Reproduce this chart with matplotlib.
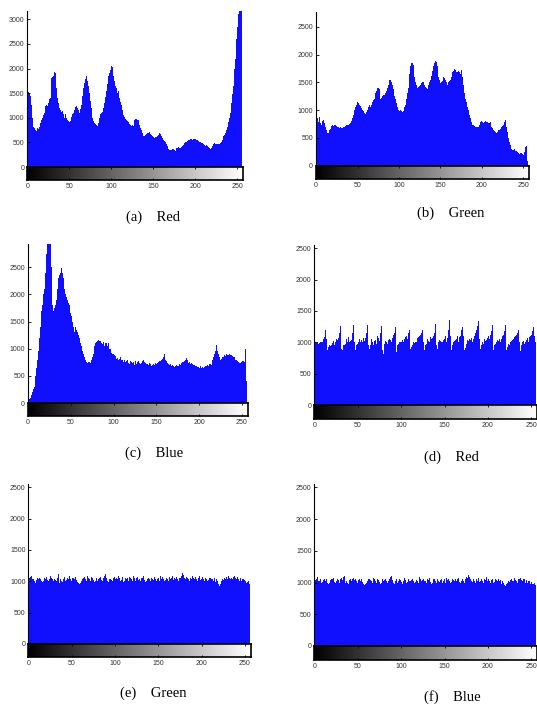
import numpy as np
import matplotlib
matplotlib.use('Agg')
import matplotlib.pyplot as plt

# histogram counts per gray level (0..255)
levels = np.arange(256)

red_orig = [
    1040, 1520, 1500, 1530, 1450, 1250, 1000, 820, 800, 780, 760, 740, 790, 770, 820, 860,
    900, 950, 1000, 1050, 1100, 1150, 1240, 1250, 1230, 1300, 1380, 1400, 1550, 1800, 1820, 1850,
    1940, 1900, 1750, 1600, 1400, 1300, 1200, 1150, 1100, 1120, 1140, 1080, 1000, 1070, 1060, 1000,
    950, 930, 920, 940, 1000, 1020, 1080, 1100, 1150, 1220, 1230, 1210, 1200, 1150, 1100, 1180,
    1250, 1350, 1450, 1600, 1700, 1780, 1840, 1800, 1750, 1650, 1500, 1350, 1200, 1100, 990, 940,
    890, 870, 850, 830, 820, 900, 1000, 1080, 1100, 1120, 1100, 1200, 1300, 1420, 1550, 1680,
    1800, 1850, 1900, 1980, 2060, 2040, 2000, 1850, 1750, 1650, 1600, 1500, 1550, 1450, 1400, 1330,
    1250, 1150, 1050, 1060, 1020, 980, 950, 930, 920, 900, 870, 860, 840, 850, 830, 900,
    950, 970, 980, 960, 950, 900, 850, 800, 750, 700, 640, 620, 640, 660, 680, 690,
    700, 710, 690, 670, 650, 630, 600, 590, 580, 600, 610, 620, 650, 690, 720, 680,
    620, 580, 540, 520, 500, 480, 460, 420, 370, 350, 350, 340, 350, 360, 370, 350,
    330, 360, 380, 390, 400, 380, 390, 410, 400, 430, 450, 480, 500, 510, 520, 530,
    540, 550, 560, 570, 550, 540, 560, 570, 560, 540, 530, 540, 520, 510, 500, 490,
    480, 490, 470, 450, 430, 450, 440, 420, 400, 380, 360, 390, 420, 440, 460, 480,
    470, 460, 460, 450, 460, 470, 480, 510, 550, 580, 620, 660, 700, 760, 820, 870,
    920, 1000, 1100, 1300, 1480, 1650, 1750, 2000, 2200, 2600, 2850, 3100, 3400, 3600, 3500, 3300,
]

green_orig = [
    880, 850, 860, 780, 870, 760, 740, 780, 800, 820, 760, 700, 680, 650, 590, 580,
    640, 660, 700, 720, 730, 720, 740, 730, 750, 720, 700, 690, 680, 690, 700, 670,
    680, 700, 700, 720, 750, 740, 730, 740, 750, 770, 780, 800, 850, 920, 1000, 1020,
    1050, 1100, 1150, 1120, 1100, 1060, 1080, 1040, 1000, 980, 950, 940, 930, 960, 1000, 1050,
    1100, 1080, 1050, 1100, 1150, 1180, 1200, 1250, 1300, 1350, 1400, 1390, 1380, 1300, 1200, 1220,
    1250, 1270, 1280, 1290, 1300, 1350, 1400, 1450, 1500, 1540, 1540, 1500, 1450, 1380, 1300, 1250,
    1200, 1120, 1050, 1000, 990, 980, 1000, 990, 960, 980, 1000, 1050, 1100, 1200, 1300, 1400,
    1500, 1650, 1800, 1840, 1850, 1820, 1750, 1600, 1500, 1450, 1400, 1410, 1420, 1440, 1450, 1480,
    1500, 1520, 1500, 1460, 1420, 1400, 1380, 1420, 1460, 1500, 1550, 1620, 1700, 1750, 1800, 1850,
    1890, 1860, 1800, 1700, 1600, 1540, 1480, 1500, 1520, 1560, 1600, 1580, 1550, 1500, 1450, 1480,
    1500, 1520, 1550, 1600, 1650, 1680, 1700, 1740, 1720, 1680, 1650, 1690, 1700, 1680, 1650, 1720,
    1700, 1600, 1450, 1300, 1200, 1150, 1100, 1050, 1000, 920, 850, 780, 750, 740, 730, 720,
    700, 690, 680, 690, 700, 740, 780, 790, 800, 780, 760, 780, 800, 810, 790, 780,
    760, 770, 780, 740, 700, 680, 650, 620, 600, 590, 580, 610, 640, 650, 660, 680,
    700, 720, 740, 780, 830, 780, 700, 600, 500, 430, 380, 330, 300, 290, 290, 300,
    280, 270, 260, 240, 220, 210, 200, 220, 230, 210, 200, 250, 300, 340, 360, 80,
]

blue_orig = [
    55, 60, 80, 100, 150, 200, 250, 300, 400, 500, 650, 800, 950, 1200, 1400, 1600,
    1700, 1800, 2000, 2100, 2400, 2750, 3000, 3100, 3200, 3050, 2950, 2500, 2000, 1800, 1700, 1750,
    1800, 1900, 2100, 2200, 2300, 2350, 2400, 2480, 2400, 2300, 2200, 2100, 2000, 1950, 1900, 1850,
    1800, 1700, 1650, 1600, 1500, 1400, 1300, 1400, 1450, 1350, 1300, 1250, 1200, 1100, 1050, 1000,
    950, 900, 850, 800, 750, 740, 720, 750, 760, 740, 800, 850, 900, 1000, 1050, 1100,
    1120, 1150, 1170, 1150, 1100, 1150, 1100, 1080, 1120, 1050, 1100, 1080, 1100, 1050, 1100, 1000,
    1000, 950, 920, 900, 900, 880, 860, 820, 880, 830, 800, 820, 850, 790, 800, 780,
    760, 800, 750, 770, 790, 740, 760, 720, 780, 750, 730, 760, 700, 740, 770, 720,
    750, 780, 740, 710, 760, 730, 770, 790, 760, 740, 720, 750, 720, 700, 740, 710,
    690, 700, 730, 720, 700, 740, 720, 740, 760, 750, 770, 780, 800, 820, 850, 900,
    850, 800, 780, 740, 720, 700, 690, 720, 680, 700, 680, 660, 690, 670, 700, 680,
    690, 710, 700, 730, 720, 750, 760, 780, 800, 830, 790, 750, 740, 760, 720, 730,
    710, 700, 720, 700, 680, 690, 660, 670, 650, 660, 680, 640, 660, 650, 670, 680,
    660, 690, 700, 690, 710, 720, 700, 750, 800, 850, 900, 950, 1070, 950, 1000, 900,
    850, 800, 820, 840, 850, 860, 880, 870, 900, 880, 880, 890, 900, 890, 880, 860,
    850, 840, 820, 800, 800, 780, 750, 740, 730, 740, 760, 770, 780, 750, 1000, 400,
]

red_enc = [
    880, 1000, 990, 1000, 980, 1000, 990, 1000, 1010, 1000, 1050, 1080, 1200, 1300, 1050, 880,
    920, 950, 940, 960, 1000, 990, 1020, 960, 1000, 1050, 1040, 1070, 1100, 1150, 1260, 900,
    880, 950, 960, 990, 980, 1050, 1000, 1080, 1000, 1020, 1040, 1080, 1150, 1280, 1000, 870,
    950, 980, 970, 1000, 1050, 1010, 1040, 1000, 1060, 1020, 1100, 1060, 1150, 1280, 950, 900,
    960, 1040, 1050, 1000, 960, 1020, 1040, 980, 1050, 1100, 1060, 1020, 1150, 1260, 880, 820,
    940, 980, 1020, 1000, 980, 1030, 1050, 1000, 1040, 1000, 1060, 1120, 1150, 1250, 850, 920,
    960, 980, 1000, 1010, 1000, 1030, 1060, 1000, 1050, 1080, 1100, 1050, 1150, 1200, 950, 900,
    920, 960, 1000, 990, 1010, 1050, 1000, 1060, 1080, 1100, 1120, 1150, 1180, 1200, 1000, 880,
    950, 980, 1050, 1020, 1040, 1000, 1080, 1050, 1060, 1100, 1150, 1200, 1290, 950, 900, 1000,
    1040, 1020, 1000, 1050, 1000, 1030, 1050, 1100, 1000, 1060, 1150, 1200, 1350, 1100, 880, 960,
    1000, 1020, 990, 1040, 1050, 1100, 1000, 1080, 1100, 1150, 1200, 1250, 1100, 870, 910, 980,
    1000, 1030, 1020, 1050, 1040, 1060, 1000, 1050, 1070, 1100, 1150, 1200, 1260, 1340, 1050, 820,
    900, 950, 1000, 980, 1050, 1020, 1040, 1000, 1060, 1100, 1050, 1120, 1180, 1280, 1000, 880,
    950, 980, 1000, 1040, 1020, 1050, 1080, 1000, 1050, 1100, 1120, 1180, 1280, 1050, 870, 930,
    980, 960, 1000, 1020, 1040, 1000, 1050, 1080, 1100, 1120, 1150, 1200, 1250, 1000, 860, 950,
    1000, 1020, 980, 1050, 1000, 1040, 1060, 1000, 1080, 1100, 1120, 1150, 1180, 1250, 1100, 1000,
]

green_enc = [
    1060, 1050, 1070, 1080, 1040, 1010, 1030, 1000, 980, 1020, 1050, 1030, 1060, 1070, 1040, 1000,
    990, 1010, 1050, 1030, 1060, 1070, 1020, 1000, 1040, 1080, 1050, 1030, 990, 1010, 1040, 1020,
    1000, 1060, 1120, 1000, 980, 1040, 1010, 990, 1030, 1070, 1050, 1000, 1020, 1060, 1040, 1080,
    1030, 1000, 1010, 1050, 1060, 1040, 1070, 1020, 990, 1000, 980, 950, 970, 1000, 1040, 1060,
    1050, 1070, 1030, 1010, 1080, 1060, 1040, 1000, 1030, 1070, 1050, 1020, 990, 1010, 1060, 1040,
    1000, 1030, 1050, 1070, 1020, 1000, 1040, 1060, 1080, 1120, 1050, 1010, 990, 1030, 1060, 1040,
    1020, 1000, 1050, 1070, 1040, 1010, 1060, 1030, 1080, 1050, 1000, 1020, 1070, 1040, 990, 1010,
    1050, 1030, 1060, 1000, 1020, 1070, 1050, 1040, 1010, 1090, 1060, 1030, 1000, 1050, 1070, 1020,
    1040, 1000, 1060, 1030, 1050, 1080, 1020, 990, 1010, 1040, 1070, 1050, 1030, 1000, 1060, 1040,
    1020, 1050, 1070, 1030, 1000, 1040, 1060, 1010, 1080, 1050, 1030, 1070, 1040, 1000, 1020, 1060,
    1050, 1030, 1010, 1070, 1040, 1060, 1080, 1020, 1000, 1050, 1030, 1070, 1040, 1010, 1060, 1090,
    1050, 1080, 1130, 1100, 1060, 1040, 1020, 1070, 1050, 1030, 1000, 1060, 1040, 1080, 1020, 1050,
    1030, 1070, 1040, 1000, 1060, 1050, 1090, 1020, 1040, 1070, 1030, 1010, 1050, 1060, 1040, 1000,
    1020, 1060, 1050, 1030, 1070, 1040, 1010, 1050, 990, 1030, 1000, 980, 950, 920, 960, 1000,
    1040, 1020, 1050, 1060, 1030, 1070, 1040, 1080, 1050, 1030, 1000, 1060, 1040, 1070, 1080, 1050,
    1030, 1060, 1070, 1040, 1010, 1050, 1000, 1030, 1040, 990, 1020, 1000, 980, 990, 1000, 960,
]

blue_enc = [
    1050, 1040, 1060, 1080, 1030, 1000, 1020, 1050, 990, 1010, 1040, 1060, 1030, 1070, 1050, 1000,
    980, 1000, 1040, 1060, 1030, 1050, 1070, 1010, 990, 1030, 1060, 1040, 1020, 1000, 1050, 1070,
    1040, 1080, 1110, 1020, 990, 1030, 1000, 980, 1040, 1060, 1030, 1000, 1050, 1070, 1040, 1060,
    1020, 990, 1000, 1040, 1060, 1030, 1050, 1010, 980, 960, 950, 970, 1000, 1030, 1050, 1060,
    1040, 1060, 1020, 1000, 1070, 1050, 1030, 990, 1020, 1060, 1040, 1010, 980, 1000, 1050, 1030,
    1010, 1040, 1060, 1030, 1000, 1020, 1050, 1070, 1080, 1110, 1040, 1000, 980, 1020, 1050, 1030,
    1000, 1030, 1060, 1040, 1010, 980, 1050, 1020, 1070, 1040, 990, 1010, 1060, 1030, 1000, 1020,
    1040, 1060, 1030, 1000, 1010, 1060, 1040, 1030, 1000, 1080, 1050, 1020, 990, 1040, 1060, 1030,
    1020, 990, 1050, 1040, 1030, 1070, 1010, 980, 1000, 1050, 1060, 1040, 1020, 990, 1050, 1030,
    1010, 1040, 1060, 1020, 990, 1030, 1050, 1000, 1070, 1040, 1020, 1060, 1030, 990, 1010, 1050,
    1040, 1020, 1000, 1060, 1030, 1050, 1070, 1010, 990, 1040, 1020, 1060, 1030, 1000, 1050, 1080,
    1040, 1070, 1120, 1090, 1050, 1030, 1010, 1060, 1040, 1020, 990, 1050, 1030, 1070, 1010, 1040,
    1020, 1060, 1030, 990, 1050, 1040, 1080, 1010, 1030, 1060, 1020, 1000, 1040, 1050, 1030, 990,
    1010, 1050, 1040, 1020, 1060, 1030, 1000, 1040, 980, 1020, 990, 960, 940, 950, 970, 1000,
    1030, 1010, 1040, 1050, 1020, 1060, 1030, 1070, 1040, 1020, 990, 1050, 1030, 1060, 1070, 1040,
    1020, 1050, 1060, 1030, 1000, 1040, 990, 1020, 1030, 980, 1010, 990, 970, 980, 990, 960,
]

captions = ['(a)    Red', '(b)    Green', '(c)    Blue', '(d)    Red', '(e)    Green', '(f)    Blue']
ymax = [3170, 2770, 2930, 2550, 2547, 2547]
ytop_tick = [3000, 2500, 2500, 2500, 2500, 2500]

W, H = 537, 707
fig = plt.figure(figsize=(W / 100, H / 100), dpi=100)

# panel boxes in pixels: left, right, top, baseline, bottom of gray bar
boxes = [
    (27, 243, 11, 167, 180),
    (315.7, 529, 11.7, 165.7, 179),
    (27.7, 247.7, 244, 403, 416),
    (314.3, 537, 245, 405, 419),
    (28.3, 250.7, 484.3, 644, 657),
    (314.3, 537, 484.3, 646, 660),
]
cap_pos = [(153, 217), (451, 213), (154, 453), (451, 457), (153, 693), (452, 697)]

XMIN, XMAX = -0.5, 256.8
tick_font = 'Liberation Sans'

for data, box, ym, yt, cap, cp in zip(
        [red_orig, green_orig, blue_orig, red_enc, green_enc, blue_enc],
        boxes, ymax, ytop_tick, captions, cap_pos):
    l, r, t, b, g = box
    ax = fig.add_axes([l / W, 1 - b / H, (r - l) / W, (b - t) / H])
    ax.bar(levels, data, width=1.0, color='#1010ff', linewidth=0)
    ax.set_xlim(XMIN, XMAX)
    ax.set_ylim(0, ym)
    ax.set_yticks(np.arange(0, yt + 1, 500))
    ax.set_xticks([])
    for s in ['top', 'right', 'bottom']:
        ax.spines[s].set_visible(False)
    ax.spines['left'].set_linewidth(0.8)
    ax.tick_params(axis='y', direction='in', length=2, width=0.6, pad=2,
                   labelsize=5, labelcolor='#333333')
    for lab in ax.get_yticklabels():
        lab.set_family(tick_font)

    # grayscale strip under the histogram
    gax = fig.add_axes([l / W, 1 - g / H, (r - l) / W, (g - b) / H])
    grad = np.linspace(0, 1, 256)[None, :]
    gax.imshow(grad, cmap='gray', aspect='auto', extent=(-0.5, 255.5, 0, 1))
    gax.set_xlim(XMIN, XMAX)
    gax.set_ylim(0, 1)
    gax.set_yticks([])
    gax.set_xticks(np.arange(0, 251, 50))
    for s in gax.spines.values():
        s.set_linewidth(1.2)
    gax.tick_params(axis='x', direction='in', top=True, length=1.5, width=0.6,
                    pad=2, labelsize=5, labelcolor='#333333')
    for lab in gax.get_xticklabels():
        lab.set_family(tick_font)

    fig.text(cp[0] / W, 1 - cp[1] / H, cap, ha='center', va='center',
             family='Liberation Serif', fontsize=10.5)

fig.savefig('out.png', dpi=100)
